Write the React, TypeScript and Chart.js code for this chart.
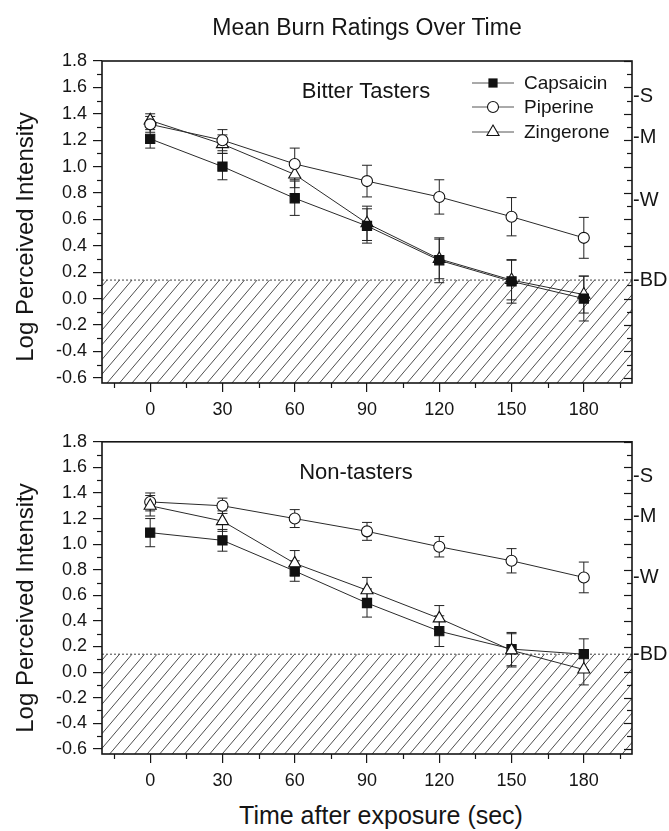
import React, { useEffect, useRef } from 'react';
import { Chart, registerables } from 'chart.js';

Chart.register(...registerables);

// ---------- data ----------
const times = [0, 30, 60, 90, 120, 150, 180];

const capsaicinBitter = [1.21, 1.0, 0.76, 0.55, 0.29, 0.13, 0.0];
const capsaicinBitterErr = [0.07, 0.1, 0.13, 0.13, 0.17, 0.165, 0.17];
const piperineBitter = [1.32, 1.2, 1.02, 0.89, 0.77, 0.62, 0.46];
const piperineBitterErr = [0.06, 0.08, 0.12, 0.12, 0.13, 0.145, 0.155];
const zingeroneBitter = [1.35, 1.17, 0.94, 0.57, 0.3, 0.14, 0.03];
const zingeroneBitterErr = [0.05, 0.07, 0.1, 0.13, 0.15, 0.15, 0.14];

const capsaicinNon = [1.09, 1.03, 0.79, 0.54, 0.32, 0.18, 0.14];
const capsaicinNonErr = [0.11, 0.085, 0.08, 0.11, 0.12, 0.13, 0.12];
const piperineNon = [1.33, 1.3, 1.2, 1.1, 0.98, 0.87, 0.74];
const piperineNonErr = [0.07, 0.06, 0.07, 0.07, 0.08, 0.095, 0.12];
const zingeroneNon = [1.3, 1.18, 0.85, 0.64, 0.42, 0.17, 0.02];
const zingeroneNonErr = [0.08, 0.08, 0.1, 0.1, 0.1, 0.13, 0.12];

const seriesNames = ['Capsaicin', 'Piperine', 'Zingerone'];
const panelLabels = ['Bitter Tasters', 'Non-tasters'];
const rightLabels = ['S', 'M', 'W', 'BD'];
const rightLabelValues = [1.53, 1.22, 0.74, 0.14];
const detectionThreshold = 0.14;
const minorXTicks = [-15, 15, 45, 75, 105, 135, 165, 195];

const Y_MIN = -0.64;
const Y_MAX = 1.8;
const FONT = '"Liberation Sans", Arial, Helvetica, sans-serif';
const INK = '#151515';

type PanelProps = {
  caps: number[]; capsErr: number[];
  pip: number[]; pipErr: number[];
  zin: number[]; zinErr: number[];
  label: string;
  legend: boolean;
  height: number;
  padTop: number;
  orders: number[];
};

function makeDataset(name: string, values: number[], errs: number[], style: string, order: number) {
  const filled = style === 'rect';
  return {
    label: name,
    data: times.map((t, i) => ({ x: t, y: values[i] })),
    errors: errs,
    order,
    borderColor: '#2a2a2a',
    borderWidth: 1,
    pointStyle: style,
    pointRadius: style === 'rect' ? 6.5 : style === 'triangle' ? 7 : 5.5,
    pointBackgroundColor: filled ? '#111' : '#fff',
    pointBorderColor: '#111',
    pointBorderWidth: 1.1,
    tension: 0,
    fill: false,
  };
}

function drawMarker(ctx: CanvasRenderingContext2D, style: string, x: number, y: number) {
  ctx.save();
  ctx.lineWidth = 1.1;
  ctx.strokeStyle = '#111';
  if (style === 'rect') {
    ctx.fillStyle = '#111';
    ctx.fillRect(x - 4.6, y - 4.6, 9.2, 9.2);
  } else if (style === 'circle') {
    ctx.fillStyle = '#fff';
    ctx.beginPath();
    ctx.arc(x, y, 5.5, 0, Math.PI * 2);
    ctx.fill();
    ctx.stroke();
  } else {
    const r = 7;
    ctx.fillStyle = '#fff';
    ctx.beginPath();
    ctx.moveTo(x, y - r);
    ctx.lineTo(x + r * Math.sin((2 * Math.PI) / 3), y - r * Math.cos((2 * Math.PI) / 3));
    ctx.lineTo(x + r * Math.sin((4 * Math.PI) / 3), y - r * Math.cos((4 * Math.PI) / 3));
    ctx.closePath();
    ctx.fill();
    ctx.stroke();
  }
  ctx.restore();
}

function Panel(props: PanelProps) {
  const ref = useRef<HTMLCanvasElement | null>(null);
  useEffect(() => {
    if (!ref.current) return;
    const styles = ['rect', 'circle', 'triangle'];
    const panelPlugin = {
      id: 'panelDecor',
      beforeDatasetsDraw(chart: any) {
        const { ctx, chartArea: a } = chart;
        const x = chart.scales.x;
        const y = chart.scales.y;
        const yb = y.getPixelForValue(detectionThreshold);
        // hatched region below detection threshold
        ctx.save();
        ctx.beginPath();
        ctx.rect(a.left, yb, a.right - a.left, a.bottom - yb);
        ctx.clip();
        ctx.strokeStyle = '#3a3a3a';
        ctx.lineWidth = 0.9;
        const h = a.bottom - yb;
        const k = 0.85;
        for (let x0 = a.left - h * k - 20; x0 < a.right + 20; x0 += 12.5) {
          ctx.beginPath();
          ctx.moveTo(x0, a.bottom);
          ctx.lineTo(x0 + h * k, yb);
          ctx.stroke();
        }
        ctx.restore();
        // dotted threshold line
        ctx.save();
        ctx.strokeStyle = '#444';
        ctx.lineWidth = 1;
        ctx.setLineDash([2, 2]);
        ctx.beginPath();
        ctx.moveTo(a.left, yb);
        ctx.lineTo(a.right, yb);
        ctx.stroke();
        ctx.restore();
        // error bars
        ctx.save();
        ctx.strokeStyle = '#222';
        ctx.lineWidth = 1;
        chart.data.datasets.forEach((ds: any) => {
          ds.data.forEach((p: any, i: number) => {
            const e = ds.errors[i];
            const px = x.getPixelForValue(p.x);
            const y1 = y.getPixelForValue(p.y + e);
            const y2 = y.getPixelForValue(p.y - e);
            ctx.beginPath();
            ctx.moveTo(px, y1);
            ctx.lineTo(px, y2);
            ctx.moveTo(px - 5, y1);
            ctx.lineTo(px + 5, y1);
            ctx.moveTo(px - 5, y2);
            ctx.lineTo(px + 5, y2);
            ctx.stroke();
          });
        });
        ctx.restore();
      },
      afterDraw(chart: any) {
        const { ctx, chartArea: a } = chart;
        const x = chart.scales.x;
        const y = chart.scales.y;
        ctx.save();
        ctx.strokeStyle = INK;
        ctx.lineWidth = 1.2;
        // minor x ticks
        minorXTicks.forEach((v) => {
          const px = Math.round(x.getPixelForValue(v)) + 0.5;
          ctx.beginPath();
          ctx.moveTo(px, a.bottom);
          ctx.lineTo(px, a.bottom + 5);
          ctx.stroke();
        });
        // y minor ticks (left) and right inner ticks
        for (let j = -6; j <= 18; j++) {
          const v = j / 10;
          const py = Math.round(y.getPixelForValue(v)) + 0.5;
          const major = j % 2 === 0;
          if (!major) {
            ctx.beginPath();
            ctx.moveTo(a.left - 5, py);
            ctx.lineTo(a.left, py);
            ctx.stroke();
          }
          ctx.beginPath();
          ctx.moveTo(a.right - (major ? 8 : 5), py);
          ctx.lineTo(a.right, py);
          ctx.stroke();
        }
        // frame
        ctx.lineWidth = 1.6;
        ctx.strokeRect(a.left, a.top, a.right - a.left, a.bottom - a.top);
        ctx.restore();

        // panel label
        ctx.save();
        ctx.fillStyle = INK;
        ctx.font = `22px ${FONT}`;
        ctx.textAlign = 'center';
        ctx.textBaseline = 'middle';
        ctx.fillText(props.label, props.legend ? 366 : 356, a.top + 31);
        ctx.restore();

        // legend
        if (props.legend) {
          const rows = [22, 46, 71];
          ctx.save();
          seriesNames.forEach((name, i) => {
            const ry = a.top + rows[i];
            ctx.strokeStyle = '#555';
            ctx.lineWidth = 1;
            ctx.beginPath();
            ctx.moveTo(472, ry);
            ctx.lineTo(514, ry);
            ctx.stroke();
            drawMarker(ctx, styles[i], 493, ry);
            ctx.fillStyle = INK;
            ctx.font = `19px ${FONT}`;
            ctx.textAlign = 'left';
            ctx.textBaseline = 'middle';
            ctx.fillText(name, 524, ry + 1);
          });
          ctx.restore();
        }
      },
    };

    const chart = new Chart(ref.current, {
      type: 'line',
      data: {
        datasets: [
          makeDataset(seriesNames[0], props.caps, props.capsErr, 'rect', props.orders[0]),
          makeDataset(seriesNames[1], props.pip, props.pipErr, 'circle', props.orders[1]),
          makeDataset(seriesNames[2], props.zin, props.zinErr, 'triangle', props.orders[2]),
        ] as any,
      },
      options: {
        animation: false,
        responsive: false,
        maintainAspectRatio: false,
        events: [],
        layout: { padding: { top: props.padTop, left: 0, right: 0, bottom: 0 } },
        plugins: {
          legend: { display: false },
          tooltip: { enabled: false },
          title: { display: false },
        },
        scales: {
          x: {
            type: 'linear',
            position: 'bottom',
            min: -20,
            max: 200,
            afterFit: (s: any) => { s.height = 42; },
            grid: { display: true, drawOnChartArea: false, drawTicks: true, tickLength: 9, color: INK, lineWidth: 1.2 },
            border: { display: false },
            ticks: {
              stepSize: 30,
              includeBounds: false,
              padding: 7,
              color: INK,
              autoSkip: false,
              maxRotation: 0,
              font: { family: FONT, size: 18 },
              callback: (v: any) => String(Math.round(Number(v))),
            },
          },
          y: {
            type: 'linear',
            position: 'left',
            min: Y_MIN,
            max: Y_MAX,
            afterFit: (s: any) => { s.width = 102; },
            grid: { display: true, drawOnChartArea: false, drawTicks: true, tickLength: 9, color: INK, lineWidth: 1.2 },
            border: { display: false },
            ticks: {
              stepSize: 0.2,
              includeBounds: false,
              padding: 6,
              color: INK,
              autoSkip: false,
              font: { family: FONT, size: 18 },
              callback: (v: any) => {
                const n = Number(v);
                return Math.abs(n) < 1e-9 ? '0.0' : n.toFixed(1);
              },
            },
          },
          y2: {
            type: 'linear',
            position: 'right',
            min: Y_MIN,
            max: Y_MAX,
            afterFit: (s: any) => { s.width = 37; },
            afterBuildTicks: (s: any) => { s.ticks = rightLabelValues.map((v) => ({ value: v })); },
            grid: { display: false, drawTicks: false, tickLength: 0 },
            border: { display: false },
            ticks: {
              padding: 1,
              color: INK,
              autoSkip: false,
              font: { family: FONT, size: 20 },
              callback: (_v: any, i: number) => '-' + rightLabels[i],
            },
          },
        },
      } as any,
      plugins: [panelPlugin],
    });
    return () => chart.destroy();
  }, []);
  return <canvas ref={ref} width={669} height={props.height} style={{ display: 'block', width: 669, height: props.height }} />;
}

export default function App() {
  const textBase: React.CSSProperties = {
    position: 'absolute',
    fontFamily: FONT,
    color: INK,
    textAlign: 'center',
    whiteSpace: 'nowrap',
  };
  return (
    <div style={{ position: 'absolute', left: 0, top: 0, width: 669, height: 831, background: '#fff', overflow: 'hidden' }}>
      <div style={{ position: 'absolute', left: 0, top: 0 }}>
        <Panel
          caps={capsaicinBitter} capsErr={capsaicinBitterErr}
          pip={piperineBitter} pipErr={piperineBitterErr}
          zin={zingeroneBitter} zinErr={zingeroneBitterErr}
          label={panelLabels[0]} legend={true} height={425} padTop={61}
          orders={[0, 1, 2]}
        />
      </div>
      <div style={{ position: 'absolute', left: 0, top: 425 }}>
        <Panel
          caps={capsaicinNon} capsErr={capsaicinNonErr}
          pip={piperineNon} pipErr={piperineNonErr}
          zin={zingeroneNon} zinErr={zingeroneNonErr}
          label={panelLabels[1]} legend={false} height={371} padTop={5}
          orders={[1, 2, 0]}
        />
      </div>
      <div style={{ ...textBase, left: 117, top: 12, width: 500, lineHeight: '30px', fontSize: 23 }}>
        Mean Burn Ratings Over Time
      </div>
      <div style={{ ...textBase, left: 25 - 200, top: 237 - 15, width: 400, height: 30, lineHeight: '30px', fontSize: 24, transform: 'rotate(-90deg)' }}>
        Log Perceived Intensity
      </div>
      <div style={{ ...textBase, left: 25 - 200, top: 608 - 15, width: 400, height: 30, lineHeight: '30px', fontSize: 24, transform: 'rotate(-90deg)' }}>
        Log Perceived Intensity
      </div>
      <div style={{ ...textBase, left: 381 - 250, top: 815 - 15, width: 500, height: 30, lineHeight: '30px', fontSize: 25 }}>
        Time after exposure (sec)
      </div>
    </div>
  );
}
